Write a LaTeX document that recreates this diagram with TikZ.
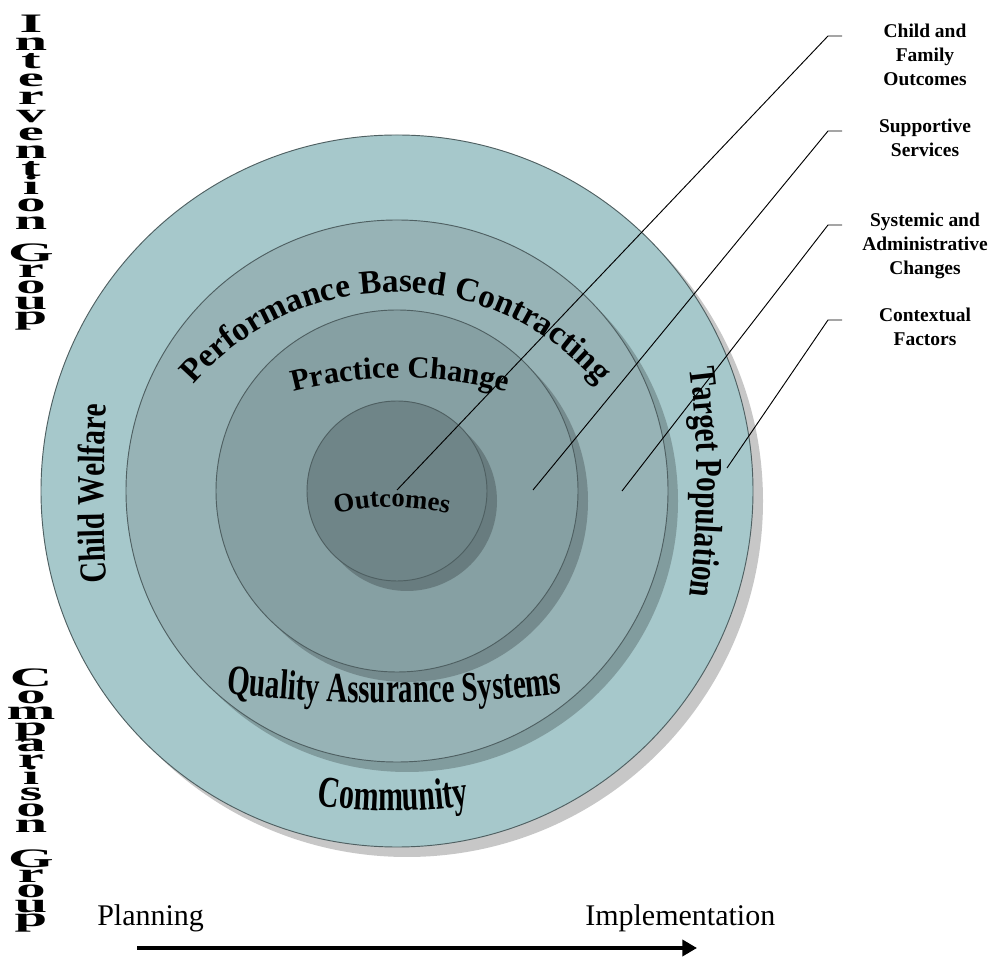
\documentclass[tikz,border=0pt]{standalone}
\usepackage{fontspec}
\setmainfont{Liberation Serif}
\newfontfamily\fN{Liberation Serif}
\newfontfamily\fA{Liberation Serif}[FakeStretch=0.77]
\newfontfamily\fB{Liberation Serif}[FakeStretch=0.69]
\newfontfamily\fC{Liberation Serif}[FakeStretch=0.68]
\newfontfamily\fW{Liberation Serif}[FakeStretch=2.2]
\usetikzlibrary{decorations.text,arrows.meta}
\definecolor{ringa}{HTML}{A6C8CB}
\definecolor{ringb}{HTML}{97B3B6}
\definecolor{ringc}{HTML}{86A0A3}
\definecolor{ringd}{HTML}{6F8588}
\definecolor{edgec}{HTML}{4F6062}
\begin{document}
\begin{tikzpicture}[x=0.75pt,y=0.75pt,
  ringedge/.style={draw=edgec,line width=0.7pt},
  shade/.style={fill=black,fill opacity=0.22},
  leader/.style={draw=black,line width=0.7pt},
  lbl/.style={font=\fN\bfseries\fontsize{14.6}{18}\selectfont,align=center,anchor=north,inner sep=0pt},
  stk/.style={font=\fW\bfseries\fontsize{20}{24}\selectfont,anchor=base,inner sep=0pt},
  axislbl/.style={font=\fN\fontsize{22.5}{27}\selectfont,anchor=base west,inner sep=0pt}]
\useasboundingbox (0,0) rectangle (992,960);
\fill[white] (0,0) rectangle (992,960);
% circles
\coordinate (ctr) at (397,469);
\coordinate (sh) at (407,459);
\fill[shade] (sh) circle[radius=356];
\filldraw[fill=ringa,ringedge] (ctr) circle[radius=356];
\fill[shade] (sh) circle[radius=271];
\filldraw[fill=ringb,ringedge] (ctr) circle[radius=271];
\fill[shade] (sh) circle[radius=181];
\filldraw[fill=ringc,ringedge] (ctr) circle[radius=181];
\fill[shade] (sh) circle[radius=90];
\filldraw[fill=ringd,ringedge] (ctr) circle[radius=90];
% arc texts
\path[decorate,decoration={text along path,text align=center,
  text={|\fN\bfseries\fontsize{25}{30}\selectfont|Performance Based Contracting}}]
  (396,400) ++(150:268) arc[start angle=150,end angle=30,radius=268];
\path[decorate,decoration={text along path,text align=center,
  text={|\fN\bfseries\fontsize{23}{28}\selectfont|Practice Change}}]
  (400,160) ++(110:422) arc[start angle=110,end angle=70,radius=422];
\path[decorate,decoration={text along path,text align=center,
  text={|\fN\bfseries\fontsize{20}{24}\selectfont|Outcomes}}]
  (392,203) ++(110:250) arc[start angle=110,end angle=70,radius=250];
\path[decorate,decoration={text along path,text align=center,
  text={|\fA\bfseries\fontsize{28.5}{34}\selectfont|Child Welfare}}]
  (1604,466) ++(186:1500) arc[start angle=186,end angle=174,radius=1500];
\path[decorate,decoration={text along path,text align=center,
  text={|\fA\bfseries\fontsize{28.5}{34}\selectfont|Target Population}}]
  (-203,478) ++(10:900) arc[start angle=10,end angle=-10,radius=900];
\path[decorate,decoration={text along path,text align=center,
  text={|\fB\bfseries\fontsize{31.5}{38}\selectfont|Quality Assurance Systems}}]
  (394,1757) ++(261:1500) arc[start angle=261,end angle=279,radius=1500];
\path[decorate,decoration={text along path,text align=center,
  text={|\fC\bfseries\fontsize{33}{40}\selectfont|Community}}]
  (393,629) ++(257:480) arc[start angle=257,end angle=283,radius=480];
% leader lines
\coordinate (p1) at (397,470); \coordinate (b1) at (828,924); \coordinate (e1) at (842,924);
\coordinate (p2) at (533,470); \coordinate (b2) at (828,829); \coordinate (e2) at (842,829);
\coordinate (p3) at (622,469); \coordinate (b3) at (828,735); \coordinate (e3) at (842,735);
\coordinate (p4) at (727,492); \coordinate (b4) at (828,640); \coordinate (e4) at (842,640);
\draw[leader] (p1) -- (b1) -- (e1);
\draw[leader] (p2) -- (b2) -- (e2);
\draw[leader] (p3) -- (b3) -- (e3);
\draw[leader] (p4) -- (b4) -- (e4);
% labels
\node[lbl] (l1) at (925,936) {Child and\\Family\\Outcomes};
\node[lbl] (l2) at (925,841) {Supportive\\Services};
\node[lbl] (l3) at (925,747) {Systemic and\\Administrative\\Changes};
\node[lbl] (l4) at (925,652) {Contextual\\Factors};
% stacked side texts
\foreach \yy/\ch [count=\i] in {927/I,909.1/n,891.2/t,873.3/e,855.4/r,837.5/v,819.6/e,801.7/n,783.8/t,765.9/i,748/o,730.1/n,698/G,682/r,666/o,650/u,635/p}
  \node[stk] (ig\i) at (31,\yy) {\ch};
\foreach \yy/\ch [count=\i] in {273/C,256.8/o,240.6/m,224.4/p,208.2/a,192/r,175.8/i,159.6/s,143.4/o,127.2/n,92/G,77/r,62/o,47/u,33/p}
  \node[stk] (cg\i) at (31,\yy) {\ch};
% axis
\node[axislbl] (plan) at (97,35) {Planning};
\node[axislbl] (impl) at (585,35) {Implementation};
\coordinate (arrS) at (137,12);
\coordinate (arrE) at (697,12);
\draw[line width=3pt,-{Triangle[length=11pt,width=12pt]}] (arrS) -- (arrE);
\end{tikzpicture}
\end{document}
